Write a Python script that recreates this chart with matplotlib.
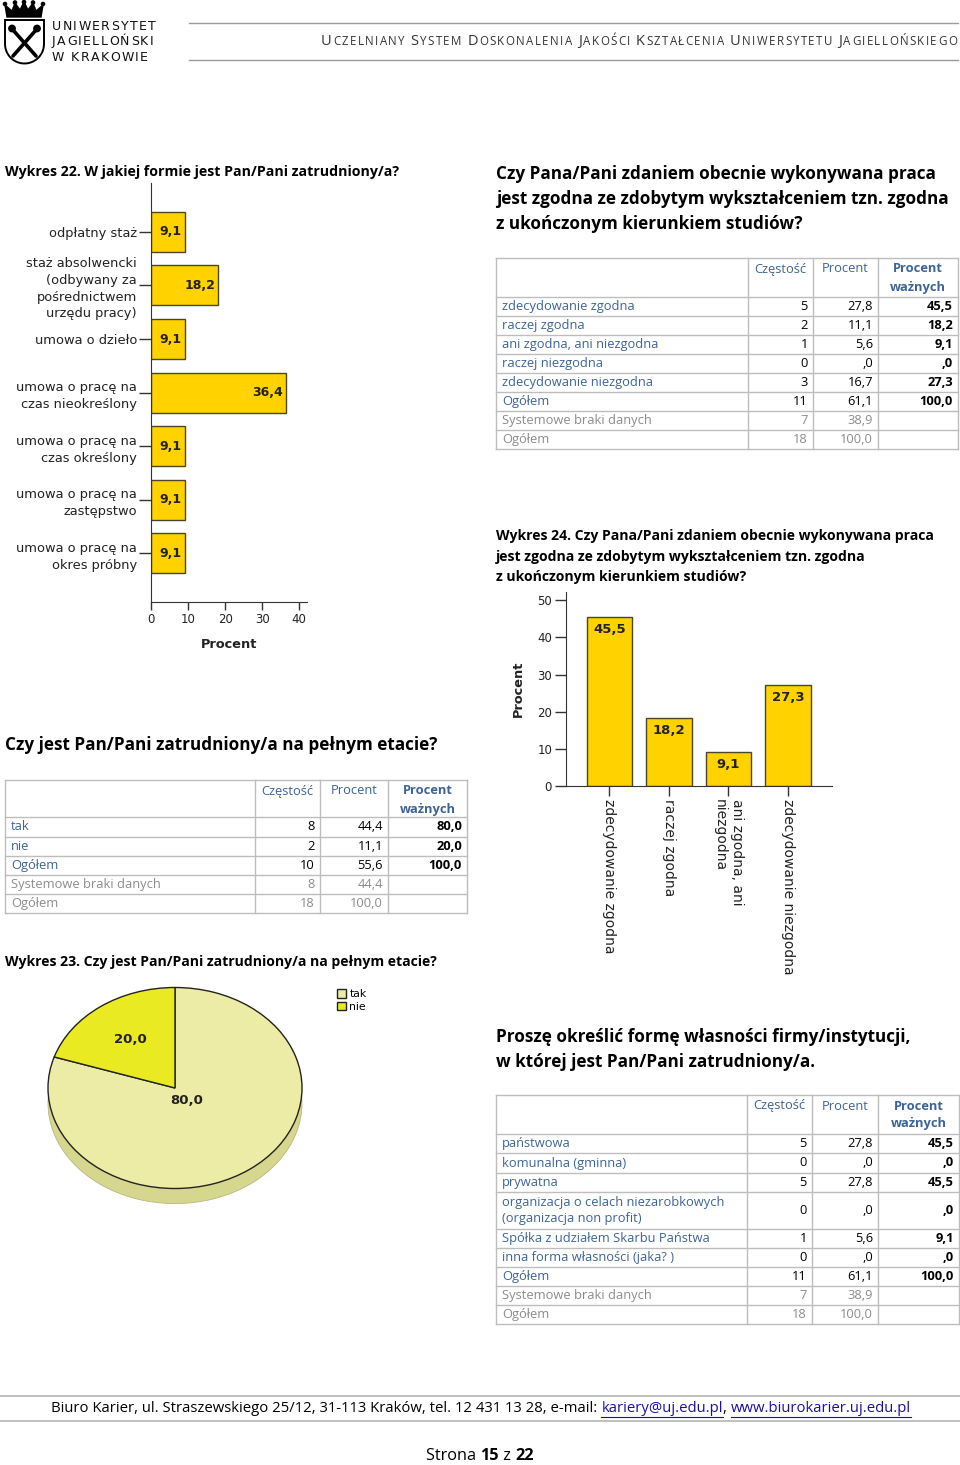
import matplotlib
matplotlib.use("Agg")
import matplotlib.pyplot as plt
from matplotlib.patches import Polygon, Circle
import numpy as np

# wykresy SPSS rysowane w DejaVu, tekst dokumentu w Open Sans
plt.rcParams['font.family'] = ['DejaVu Sans']
DOC = ['Open Sans', 'DejaVu Sans']

# ----------------------------------------------------------------------------
# DANE
# ----------------------------------------------------------------------------
# Wykres 22 - forma zatrudnienia (procent)
forma_kat = ["odpłatny staż",
             "staż absolwencki\n(odbywany za\npośrednictwem\nurzędu pracy)",
             "umowa o dzieło",
             "umowa o pracę na\nczas nieokreślony",
             "umowa o pracę na\nczas określony",
             "umowa o pracę na\nzastępstwo",
             "umowa o pracę na\nokres próbny"]
forma_proc = [9.1, 18.2, 9.1, 36.4, 9.1, 9.1, 9.1]
forma_ticks = [0, 10, 20, 30, 40]

# tabela: zgodnosc pracy z wyksztalceniem
zg_kat = ["zdecydowanie zgodna", "raczej zgodna", "ani zgodna, ani niezgodna",
          "raczej niezgodna", "zdecydowanie niezgodna"]
zg_czestosc = [5, 2, 1, 0, 3]
zg_procent = [27.8, 11.1, 5.6, 0.0, 16.7]
zg_wazne = [45.5, 18.2, 9.1, 0.0, 27.3]
zg_ogolem = (11, 61.1, 100.0)
zg_braki = (7, 38.9)
zg_razem = (18, 100.0)

# Wykres 24
zg_wykres_kat = ["zdecydowanie zgodna", "raczej zgodna",
                 "ani zgodna, ani\nniezgodna", "zdecydowanie niezgodna"]
zg_wykres_proc = [45.5, 18.2, 9.1, 27.3]
zg_wykres_ticks = [0, 10, 20, 30, 40, 50]

# tabela: pelny etat
etat_kat = ["tak", "nie"]
etat_czestosc = [8, 2]
etat_procent = [44.4, 11.1]
etat_wazne = [80.0, 20.0]
etat_ogolem = (10, 55.6, 100.0)
etat_braki = (8, 44.4)
etat_razem = (18, 100.0)

# tabela: forma wlasnosci
wl_kat = ["państwowa", "komunalna (gminna)", "prywatna",
          "organizacja o celach niezarobkowych\n(organizacja non profit)",
          "Spółka z udziałem Skarbu Państwa", "inna forma własności (jaka? )"]
wl_czestosc = [5, 0, 5, 0, 1, 0]
wl_procent = [27.8, 0.0, 27.8, 0.0, 5.6, 0.0]
wl_wazne = [45.5, 0.0, 45.5, 0.0, 9.1, 0.0]
wl_ogolem = (11, 61.1, 100.0)
wl_braki = (7, 38.9)
wl_razem = (18, 100.0)

# ----------------------------------------------------------------------------
BLUE = '#3C6496'
GRAY = '#8C8C8C'
LINE = '#BDBDBD'
GOLD = '#FFD200'
EDGE = '#4A4628'


def fmt(v):
    s = f"{v:.1f}".replace(".", ",")
    return s[1:] if s.startswith("0,") else s


fig = plt.figure(figsize=(9.6, 14.65), dpi=100)
W, H = 960, 1465

# strona w pikselach (y w dol)
page = fig.add_axes([0, 0, 1, 1])
page.set_xlim(0, W)
page.set_ylim(H, 0)
page.axis('off')
renderer = fig.canvas.get_renderer()


def px_axes(left, top, right, bottom):
    return fig.add_axes([left / W, 1 - bottom / H, (right - left) / W, (bottom - top) / H])


def txt(x, y, s, size=9.5, **kw):
    kw.setdefault('va', 'center')
    kw.setdefault('color', '#000000')
    kw.setdefault('family', DOC)
    return page.text(x, y, s, fontsize=size, **kw)


def runs(x, yc, parts, size, align='center', gap=0.0):
    # kawalki tekstu w roznych stylach, ustawiane jeden za drugim
    texts = []
    for s, kw in parts:
        kw = dict(kw)
        sz = kw.pop('size', size)
        texts.append(txt(0, yc, s, size=sz, **kw))
    widths = [t.get_window_extent(renderer).width for t in texts]
    total = sum(widths) + gap * (len(widths) - 1)
    xx = {'center': x - total / 2, 'right': x - total, 'left': x}[align]
    for t, w, (s, kw) in zip(texts, widths, parts):
        t.set_x(xx)
        if kw.get('color') == '#1A0DAB':
            page.plot([xx, xx + w], [yc + 7.5, yc + 7.5], color='#1A0DAB', lw=0.8)
        xx += w + gap


# --- naglowek -----------------------------------------------------------------
page.add_patch(Polygon([(7, 17), (5, 5), (12, 11), (15, 3), (20, 10), (24, 2), (28, 10),
                        (33, 3), (36, 11), (43, 5), (41, 17)], closed=True, color='black'))
for cx, cy in [(5, 4), (15, 2.5), (24, 2), (33, 2.5), (43, 4)]:
    page.add_patch(Circle((cx, cy), 1.6, color='black'))
shield = [(5, 20), (44, 20), (44, 44)] + \
         [(24.5 + 19.5 * np.cos(t), 44 + 19.5 * np.sin(t)) for t in np.linspace(0, np.pi, 24)] + [(5, 20)]
page.add_patch(Polygon(shield, closed=True, facecolor='white', edgecolor='black', lw=1.4))
page.plot([13, 36], [30, 56], color='black', lw=2.6, solid_capstyle='round')
page.plot([36, 13], [30, 56], color='black', lw=2.6, solid_capstyle='round')
page.add_patch(Circle((12, 28.5), 3.2, color='black'))
page.add_patch(Circle((37, 28.5), 3.2, color='black'))
for i, s in enumerate(["UNIWERSYTET", "JAGIELLOŃSKI", "W KRAKOWIE"]):
    runs(52, 26.5 + i * 15.3, [(ch.replace(' ', '\u00a0'), dict(family=['DejaVu Sans'], color='#111111'))
                               for ch in s], 9.0, align='left', gap=1.35)
page.plot([189, 958], [23, 23], color='#9A9A9A', lw=1)
page.plot([189, 958], [60, 60], color='#9A9A9A', lw=1)

# kapitaliki
naglowek = "Uczelniany System Doskonalenia Jakości Kształcenia Uniwersytetu Jagiellońskiego"
czesci = []
for slowo in naglowek.split(' '):
    czesci.append((slowo[0], dict(size=10.5, va='baseline', color='#333333')))
    for ch in slowo[1:].upper():
        czesci.append((ch, dict(size=8.3, va='baseline', color='#333333')))
    czesci.append(('\u00a0', dict(size=8.3, va='baseline')))
runs(957, 45, czesci[:-1], 8, align='right', gap=1.4)

# --- tytuly -------------------------------------------------------------------
txt(5, 172, "Wykres 22. W jakiej formie jest Pan/Pani zatrudniony/a?", size=10.15, weight='bold')
for i, s in enumerate(["Czy Pana/Pani zdaniem obecnie wykonywana praca",
                       "jest zgodna ze zdobytym wykształceniem tzn. zgodna",
                       "z ukończonym kierunkiem studiów?"]):
    txt(496, 174 + 25 * i, s, size=12.35, weight='bold')
for i, s in enumerate(["Wykres 24. Czy Pana/Pani zdaniem obecnie wykonywana praca",
                       "jest zgodna ze zdobytym wykształceniem tzn. zgodna",
                       "z ukończonym kierunkiem studiów?"]):
    txt(496, 536 + 20.5 * i, s, size=10.1, weight='bold')
txt(5, 745, "Czy jest Pan/Pani zatrudniony/a na pełnym etacie?", size=12.35, weight='bold')
txt(5, 962, "Wykres 23. Czy jest Pan/Pani zatrudniony/a na pełnym etacie?", size=10.1, weight='bold')
txt(496, 1037, "Proszę określić formę własności firmy/instytucji,", size=12.3, weight='bold')
txt(496, 1062, "w której jest Pan/Pani zatrudniony/a.", size=12.3, weight='bold')

TS = 9.3  # tekst w tabelach


# --- tabele -------------------------------------------------------------------
def tabela(cols, rows_y, kat, czest, proc, wazne, ogolem, braki, razem):
    rows = [(k, [str(c), fmt(p), fmt(w)], 'main') for k, c, p, w in zip(kat, czest, proc, wazne)]
    rows.append(("Ogółem", [str(ogolem[0]), fmt(ogolem[1]), fmt(ogolem[2])], 'main'))
    rows.append(("Systemowe braki danych", [str(braki[0]), fmt(braki[1])], 'gray'))
    rows.append(("Ogółem", [str(razem[0]), fmt(razem[1])], 'gray'))
    x0, x1 = cols[0], cols[-1]
    for yy in rows_y:
        page.plot([x0, x1], [yy, yy], color=LINE, lw=1)
    for xx in cols:
        page.plot([xx, xx], [rows_y[0], rows_y[-1]], color=LINE, lw=1)
    top = rows_y[0]
    txt((cols[1] + cols[2]) / 2, top + 11, "Częstość", size=TS, ha='center', color=BLUE)
    txt((cols[2] + cols[3]) / 2, top + 11, "Procent", size=TS, ha='center', color=BLUE)
    txt((cols[3] + cols[4]) / 2, top + 11, "Procent", size=TS, ha='center', color=BLUE, weight='bold')
    txt((cols[3] + cols[4]) / 2, top + 29, "ważnych", size=TS, ha='center', color=BLUE, weight='bold')
    for (label, vals, kind), ya, yb in zip(rows, rows_y[1:-1], rows_y[2:]):
        yc = (ya + yb) / 2
        lab_col = BLUE if kind == 'main' else GRAY
        val_col = '#000000' if kind == 'main' else GRAY
        txt(x0 + 6, yc, label, size=TS, color=lab_col, linespacing=1.25)
        for j, v in enumerate(vals):
            bold = 'bold' if (j == 2) else 'normal'
            txt(cols[j + 2] - 5, yc, v, size=TS, ha='right', color=val_col, weight=bold)


tabela([496, 748, 813, 878, 958],
       [258, 297, 316, 335, 354, 373, 392, 411, 430, 449],
       zg_kat, zg_czestosc, zg_procent, zg_wazne, zg_ogolem, zg_braki, zg_razem)
tabela([5, 255, 320, 388, 467],
       [780, 817, 837, 856, 875, 894, 913],
       etat_kat, etat_czestosc, etat_procent, etat_wazne, etat_ogolem, etat_braki, etat_razem)
tabela([496, 747, 812, 878, 959],
       [1095, 1134, 1153, 1173, 1192, 1229, 1248, 1267, 1286, 1305, 1324],
       wl_kat, wl_czestosc, wl_procent, wl_wazne, wl_ogolem, wl_braki, wl_razem)

# --- Wykres 22: slupki poziome ---------------------------------------------------
ax1 = px_axes(151, 183, 306.7, 601.7)
y = np.arange(len(forma_kat))
ax1.barh(y, forma_proc, height=0.746, color=GOLD, edgecolor=EDGE, linewidth=1)
for yi, v in zip(y, forma_proc):
    ax1.annotate(fmt(v), (v, yi), xytext=(-2.5, 0), textcoords='offset points',
                 ha='right', va='center', fontsize=9, fontweight='bold', color='#222222')
ax1.set_xlim(0, 42)
ax1.set_ylim(len(forma_kat) - 1 + 0.90, -0.91)
ax1.set_xticks(forma_ticks, [str(t) for t in forma_ticks], fontsize=8.5, color='#222222')
ax1.set_yticks(y, forma_kat, fontsize=9.4, color='#222222', linespacing=1.38)
ax1.set_xlabel("Procent", fontsize=9.3, fontweight='bold', color='#222222', labelpad=9)
for s in ['top', 'right']:
    ax1.spines[s].set_visible(False)
for s in ['left', 'bottom']:
    ax1.spines[s].set_color('#333333')
ax1.tick_params(axis='y', length=9, width=1, color='#333333', pad=1)
ax1.tick_params(axis='x', length=6, width=1, color='#333333', pad=2)
ax1.patch.set_visible(False)

# --- Wykres 24: slupki pionowe ---------------------------------------------------
ax2 = px_axes(566, 592, 832, 786)
x = np.arange(len(zg_wykres_kat))
ax2.bar(x, zg_wykres_proc, width=0.76, color=GOLD, edgecolor=EDGE, linewidth=1)
for xi, v in zip(x, zg_wykres_proc):
    ax2.annotate(fmt(v), (xi, v), xytext=(0, -9), textcoords='offset points',
                 ha='center', va='center', fontsize=9.5, fontweight='bold', color='#222222')
ax2.set_xlim(-0.73, 3.74)
ax2.set_ylim(0, 52.2)
ax2.set_yticks(zg_wykres_ticks, [str(t) for t in zg_wykres_ticks], fontsize=8.5, color='#222222')
ax2.set_xticks(x, zg_wykres_kat, rotation=-90, fontsize=10, color='#222222',
               ha='center', va='top', multialignment='left', linespacing=1.35)
ax2.set_ylabel("Procent", fontsize=9.3, fontweight='bold', color='#222222', labelpad=9)
for s in ['top', 'right']:
    ax2.spines[s].set_visible(False)
for s in ['left', 'bottom']:
    ax2.spines[s].set_color('#333333')
ax2.tick_params(axis='y', length=8, width=1, color='#333333', pad=2)
ax2.tick_params(axis='x', length=7, width=1, color='#333333', pad=2)
ax2.patch.set_visible(False)

# --- Wykres 23: kolo "3D" -------------------------------------------------------
TAK, NIE, SIDE = '#ECECA6', '#EAEA22', '#D6D68E'
axp = px_axes(175 - 1.05 * 127, 1088 - 1.05 * 100.5, 175 + 1.05 * 127, 1088 + 1.22 * 100.5)
depth = 0.15
axp.fill_between([-1, 1], -depth, 0, color=SIDE, lw=0)
axp.pie(etat_wazne, radius=1, center=(0, -depth), startangle=162, colors=[SIDE, SIDE],
        wedgeprops=dict(edgecolor='#B8B880', linewidth=0.6))
wedges, _, autotexts = axp.pie(
    etat_wazne, radius=1, startangle=162, colors=[TAK, NIE],
    wedgeprops=dict(edgecolor='#222222', linewidth=1),
    autopct=lambda p: fmt(p), pctdistance=0.6,
    textprops=dict(fontsize=9.5, fontweight='bold', color='#222222'))
# etykieta duzego wycinka blizej srodka
th = np.deg2rad(162 + 360 * etat_wazne[0] / 100 / 2)
autotexts[0].set_position((0.15 * np.cos(th), 0.15 * np.sin(th)))
axp.set_aspect('auto')
axp.set_xlim(-1.05, 1.05)
axp.set_ylim(-1.22, 1.05)
axp.axis('off')
fig.legend(wedges, etat_kat, loc='upper left', bbox_to_anchor=(337 / W, 1 - 989 / H),
           frameon=False, handlelength=0.85, handleheight=0.85, handletextpad=0.3,
           labelspacing=0.25, borderpad=0, borderaxespad=0,
           prop={'family': 'DejaVu Sans', 'size': 7.8})

# --- stopka -----------------------------------------------------------------------
page.plot([0, 960], [1396, 1396], color='#B5B5B5', lw=1.2)
page.plot([0, 960], [1421, 1421], color='#B5B5B5', lw=1.2)

LINK = dict(color='#1A0DAB')
runs(481, 1409, [("Biuro Karier, ul. Straszewskiego 25/12, 31-113 Kraków, tel. 12 431 13 28, e-mail:\u00a0", {}),
                 ("kariery@uj.edu.pl", LINK), (",\u00a0", {}),
                 ("www.biurokarier.uj.edu.pl", LINK)], 10.7)
runs(480, 1456, [("Strona\u00a0", {}), ("15", dict(weight='bold')), ("\u00a0z\u00a0", {}),
                 ("22", dict(weight='bold'))], 11.7)

fig.savefig("out.png", dpi=100)
